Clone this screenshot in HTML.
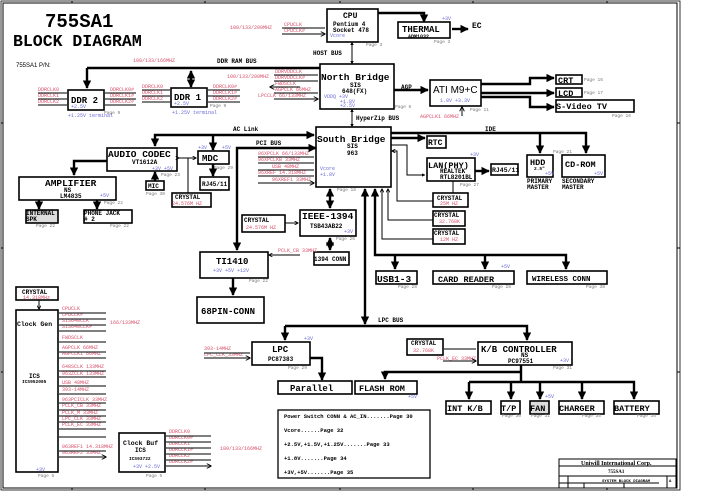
<!DOCTYPE html>
<html><head><meta charset="utf-8"><style>
body{margin:0;background:#fff}
svg{display:block}
text{font-family:"Liberation Mono",monospace;font-weight:bold;fill:#000}
.r,.r text{fill:#d8506a;font-size:5px;font-weight:normal}
.b{fill:#6a6ad8;font-size:5px;font-weight:normal}
.p{fill:#777;font-size:4.5px;font-weight:normal}
.s{font-size:6px}
.box{fill:#fff;stroke:#000;stroke-width:1.6}
.t{stroke:#000;stroke-width:2.4;fill:none}
.n{stroke:#000;stroke-width:1;fill:none}
.rl{stroke:#333;stroke-width:1.2;fill:none}
</style></head><body>
<svg width="713" height="504" viewBox="0 0 713 504" xmlns="http://www.w3.org/2000/svg">
<defs>
<marker id="a" viewBox="0 0 10 10" refX="9" refY="5" markerWidth="3.5" markerHeight="3.5" orient="auto-start-reverse"><path d="M0,0L10,5L0,10z" fill="#000"/></marker>
<marker id="v" viewBox="0 0 10 10" refX="9" refY="5" markerWidth="4" markerHeight="4" orient="auto"><path d="M0,0L10,5L0,10" fill="none" stroke="#000" stroke-width="2"/></marker>
</defs>
<rect x="3" y="3" width="674" height="485" fill="none" stroke="#000" stroke-width="1"/>
<rect x="1" y="1" width="679" height="489" fill="none" stroke="#000" stroke-width="0.8"/>
<g class="n"><path d="M72,1v2M205,1v2M340,1v2M473,1v2M607,1v2M72,488v2M205,488v2M340,488v2M473,488v2M607,488v2M1,123h2M1,248h2M1,372h2M677,123h3M677,248h3M677,372h3"/></g>

<text x="45" y="27" style="font-size:19px">755SA1</text>
<text x="13" y="46" style="font-size:16.5px">BLOCK DIAGRAM</text>
<text x="16" y="67" style="font-size:6px;font-weight:normal;font-family:'Liberation Sans',sans-serif">755SA1 P/N:</text>

<rect class="box" x="327" y="9" width="51" height="33"/>
<text x="343" y="18" style="font-size:8px">CPU</text>
<text x="333" y="26" class="s">Pentium 4</text>
<text x="333" y="32" class="s">Socket 478</text>
<text x="330" y="37" class="b">Vcore</text>
<text x="366" y="46" class="p">Page 3</text>
<text x="230" y="29" class="r">100/133/200MHZ</text>
<text x="284" y="26" class="r">CPUCLK</text><text x="284" y="32" class="r">CPUCLK#</text>
<path class="rl" d="M282,28h43M282,34h43" marker-end="url(#v)"/>
<path class="t" d="M378,13h46v9" marker-end="url(#a)"/>
<rect class="box" x="398" y="22" width="52" height="16"/>
<text x="402" y="32" style="font-size:9px">THERMAL</text>
<text x="408" y="38" style="font-size:5px">ADM1032</text>
<text x="442" y="20" class="b">+3V</text><text x="434" y="43" class="p">Page 3</text>
<path class="t" d="M452,29h16" marker-end="url(#a)"/>
<text x="472" y="28" style="font-size:8px">EC</text>
<path class="n" d="M352,42v22" stroke-width="1.6" marker-start="url(#a)" marker-end="url(#a)"/>
<text x="313" y="55" class="s">HOST BUS</text>

<rect class="box" x="320" y="64" width="74" height="45"/>
<text x="321" y="80" style="font-size:9.5px">North Bridge</text>
<text x="350" y="87" class="s">SIS</text><text x="342" y="93" class="s">648(FX)</text>
<text x="324" y="98" class="b">VDDQ +3V</text><text x="340" y="103" class="b">+1.8V</text><text x="340" y="107" class="b">+2.5V</text>
<text x="395" y="108" class="p">Page 6</text>
<text x="275" y="73" class="r">DDRVDDCLK</text><text x="275" y="79" class="r">DDRVDDCLK#</text><text x="275" y="85" class="r">FWDSCLK</text><text x="275" y="91" class="r">AGPCLK 66MHZ</text><text x="258" y="97" class="r">LPCCLK 66/133MHZ</text>
<text x="227" y="78" class="r">100/133/200MHZ</text>
<path class="rl" d="M274,68h44M274,75h44M274,81h44M274,93h44M274,99h44" marker-end="url(#v)"/>
<path class="rl" d="M300,87h-30" marker-end="url(#v)"/>
<path class="t" d="M394,90h34" marker-end="url(#a)"/>
<text x="401" y="89" class="s">AGP</text>
<rect class="box" x="430" y="80" width="51" height="26"/>
<text x="433" y="93" style="font-family:'Liberation Sans',sans-serif;font-weight:normal;font-size:10px">ATI M9+C</text>
<text x="440" y="102" class="b">1.8V  +3.3V</text>
<text x="470" y="111" class="p">Page 11</text>
<text x="420" y="118" class="r">AGPCLK1 66MHZ</text>
<path class="rl" d="M462,116v-9" marker-end="url(#v)"/>
<path class="t" d="M481,84h49v-6h24" marker-end="url(#a)"/>
<path class="t" d="M481,93h73" marker-end="url(#a)"/>
<path class="t" d="M481,97h49v10h24" marker-end="url(#a)"/>
<rect class="box" x="556" y="75" width="26" height="9"/><text x="558" y="83" style="font-size:8.5px">CRT</text>
<rect class="box" x="556" y="88" width="26" height="9"/><text x="558" y="96" style="font-size:8.5px">LCD</text>
<rect class="box" x="556" y="100" width="78" height="12"/><text x="556" y="109" style="font-size:8.5px">S-Video TV</text>
<text x="584" y="81" class="p">Page 16</text><text x="584" y="94" class="p">Page 17</text><text x="612" y="117" class="p">Page 16</text>
<path class="n" d="M352,109v18" stroke-width="2" marker-start="url(#a)" marker-end="url(#a)"/>
<text x="356" y="120" class="s">HyperZip BUS</text>

<path class="t" d="M87,68h233"/>
<text x="217" y="63" class="s">DDR RAM BUS</text>
<text x="133" y="62" class="r">100/133/166MHZ</text>
<path class="t" d="M87,68v20" marker-end="url(#a)"/><path class="t" d="M191,71v16" marker-start="url(#a)" marker-end="url(#a)"/>
<rect class="box" x="68" y="90" width="36" height="20"/><text x="71" y="103" style="font-size:9px">DDR 2</text><text x="71" y="108" class="b">+2.5V</text>
<rect class="box" x="171" y="88" width="36" height="19"/><text x="174" y="100" style="font-size:9px">DDR 1</text><text x="174" y="105" class="b">+2.5V</text>
<text x="68" y="117" class="b">+1.25V terminal</text><text x="172" y="114" class="b">+1.25V terminal</text>
<text x="104" y="114" class="p">Page 9</text><text x="210" y="107" class="p">Page 9</text>
<text x="38" y="91" class="r">DDRCLK0</text><text x="38" y="97" class="r">DDRCLK1</text><text x="38" y="103" class="r">DDRCLK2</text>
<path class="rl" d="M38,93h29M38,99h29M38,105h29"/>
<text x="110" y="91" class="r">DDRCLK0#</text><text x="110" y="97" class="r">DDRCLK1#</text><text x="110" y="103" class="r">DDRCLK2#</text>
<path class="rl" d="M105,93h31M105,99h31M105,105h31"/>
<text x="142" y="88" class="r">DDRCLK0</text><text x="142" y="94" class="r">DDRCLK1</text><text x="142" y="100" class="r">DDRCLK2</text>
<path class="rl" d="M142,90h28M142,96h28M142,102h28"/>
<text x="213" y="88" class="r">DDRCLK0#</text><text x="213" y="94" class="r">DDRCLK1#</text><text x="213" y="100" class="r">DDRCLK2#</text>
<path class="rl" d="M208,90h32M208,96h32M208,102h32"/>

<rect class="box" x="316" y="127" width="75" height="60"/>
<text x="317" y="142" style="font-size:9.5px">South Bridge</text>
<text x="347" y="148" class="s">SIS</text><text x="347" y="155" class="s">963</text>
<text x="320" y="170" class="b">Vcore</text><text x="320" y="176" class="b">+1.8V</text>
<text x="337" y="191" class="p">Page 18</text>
<text x="258" y="155" class="r">96XPCLK 66/133MHZ</text><text x="258" y="161" class="r">96XPCLKB 33MHZ</text><text x="272" y="168" class="r">USB 48MHZ</text><text x="258" y="174" class="r">96XREF 14.318MHZ</text><text x="272" y="181" class="r">96XREF1 33MHZ</text>
<path class="rl" d="M258,157h56M258,163h56M258,170h56M258,176h56M258,183h56" marker-end="url(#v)"/>
<path class="t" d="M391,133h195v20" marker-end="url(#a)"/><path class="t" d="M540,133v20" marker-end="url(#a)"/>
<text x="485" y="131" class="s">IDE</text>
<path class="t" d="M391,138h34" marker-end="url(#a)"/>
<rect class="box" x="427" y="136" width="19" height="12"/><text x="428" y="145" style="font-size:8px">RTC</text>
<rect class="box" x="527" y="155" width="26" height="22"/><text x="530" y="165" style="font-size:8.5px">HDD</text><text x="534" y="170" style="font-size:4.5px">2.5"</text><text x="545" y="175" class="b">+5V</text>
<rect class="box" x="562" y="155" width="43" height="22"/><text x="565" y="167" style="font-size:8.5px">CD-ROM</text><text x="594" y="175" class="b">+5V</text>
<text x="553" y="153" class="p">Page 21</text>
<text x="527" y="183" class="s">PRIMARY</text><text x="527" y="189" class="s">MASTER</text>
<text x="562" y="183" class="s">SECONDARY</text><text x="562" y="189" class="s">MASTER</text>
<path class="n" stroke-width="1.6" d="M391,145h16v30h18" marker-end="url(#a)"/>
<rect class="box" x="427" y="158" width="48" height="23"/><text x="428" y="168" style="font-size:8.5px">LAN(PHY)</text>
<text x="440" y="173" class="s">REALTEK</text><text x="440" y="179" class="s">RTL8201BL</text>
<text x="470" y="156" class="b">+3V</text><text x="460" y="186" class="p">Page 27</text>
<path class="t" d="M475,171h14" marker-end="url(#a)"/>
<rect class="box" x="491" y="164" width="27" height="11"/><text x="492" y="172" style="font-size:6.5px">RJ45/11</text>
<path class="n" stroke-width="1.5" d="M453,193v-12"/>
<rect class="box" x="433" y="193" width="35" height="14"/><text x="437" y="200" class="s">CRYSTAL</text><text x="440" y="205" class="r">25M HZ</text>
<rect class="box" x="433" y="211" width="32" height="15"/><text x="434" y="217" class="s">CRYSTAL</text><text x="439" y="223" class="r">32.768K</text>
<rect class="box" x="433" y="229" width="32" height="15"/><text x="434" y="235" class="s">CRYSTAL</text><text x="440" y="241" class="r">12M HZ</text>
<path class="n" stroke-width="1.5" d="M433,201h-36v-50h-5" marker-end="url(#v)"/>
<path class="n" stroke-width="1.5" d="M433,220h-45v-31" marker-end="url(#v)"/>
<path class="n" stroke-width="1.5" d="M433,239h-51v-50" marker-end="url(#v)"/>
<path class="t" d="M375,189v66h191v14" marker-start="url(#a)" marker-end="url(#a)"/>
<path class="t" d="M395,255v14" marker-end="url(#a)"/><path class="t" d="M485,255v14" marker-end="url(#a)"/>
<rect class="box" x="376" y="271" width="41" height="13"/><text x="377" y="282" style="font-size:9.5px">USB1-3</text>
<rect class="box" x="433" y="271" width="81" height="13"/><text x="438" y="282" style="font-size:8.5px">CARD READER</text>
<rect class="box" x="527" y="271" width="80" height="13"/><text x="532" y="281" style="font-size:7.5px">WIRELESS CONN</text>
<text x="501" y="268" class="b">+5V</text>
<text x="398" y="288" class="p">Page 28</text><text x="492" y="288" class="p">Page 28</text><text x="586" y="288" class="p">Page 38</text>

<path class="t" d="M365,189v135" marker-start="url(#a)" marker-end="url(#a)"/>
<path class="t" d="M285,326h242v14" marker-end="url(#a)"/><path class="t" d="M285,326v14" marker-end="url(#a)"/>
<text x="378" y="322" class="s">LPC BUS</text>
<path class="t" d="M316,148h-79v102" marker-start="url(#a)" marker-end="url(#a)"/>
<text x="256" y="145" class="s">PCI BUS</text>
<path class="t" d="M155,146v-11h159" marker-start="url(#a)" marker-end="url(#a)"/>
<path class="t" d="M213,150v-15" marker-start="url(#a)"/>
<text x="233" y="131" class="s">AC Link</text>
<rect class="box" x="107" y="148" width="70" height="23"/><text x="108" y="157" style="font-size:9.5px">AUDIO CODEC</text>
<text x="132" y="164" class="s">VT1612A</text><text x="152" y="170" class="b">+3V +5V</text>
<text x="161" y="176" class="p">Page 23</text>
<rect class="box" x="198" y="151" width="31" height="13"/><text x="202" y="161" style="font-size:9px">MDC</text>
<text x="198" y="149" class="b">+3V</text><text x="222" y="149" class="b">+5V</text><text x="214" y="169" class="p">Page 29</text>
<path class="n" stroke-width="1.4" d="M179,158h17" marker-start="url(#v)" marker-end="url(#v)"/>
<path class="n" stroke-width="1.4" d="M188,158v35"/>
<path class="t" d="M213,164v12" marker-end="url(#a)"/>
<rect class="box" x="200" y="177" width="29" height="13"/><text x="202" y="186" class="s">RJ45/11</text>
<path class="t" d="M155,181v-9" marker-end="url(#a)"/>
<rect class="box" x="146" y="181" width="18" height="9"/><text x="148" y="188" class="s">MIC</text><text x="146" y="195" class="p">Page 30</text>
<rect class="box" x="172" y="193" width="39" height="14"/><text x="175" y="199" class="s">CRYSTAL</text><text x="172" y="205" class="r">24.576M HZ</text>
<path class="t" d="M107,161h-33v14" marker-end="url(#a)"/>
<rect class="box" x="19" y="177" width="97" height="23"/><text x="45" y="186" style="font-size:9.5px">AMPLIFIER</text>
<text x="64" y="192" class="s">NS</text><text x="60" y="198" class="s">LM4835</text><text x="100" y="197" class="b">+5V</text>
<text x="104" y="204" class="p">Page 22</text>
<path class="t" d="M39,200v9" marker-end="url(#a)"/><path class="t" d="M97,200v9" marker-end="url(#a)"/>
<rect class="box" x="26" y="210" width="32" height="13" style="fill:#ddd"/><text x="26" y="215" class="s">INTERNAL</text><text x="26" y="221" class="s">SPK</text>
<rect class="box" x="84" y="210" width="48" height="13"/><text x="84" y="215" class="s">PHONE JACK</text><text x="84" y="221" class="s"># 2</text>
<text x="36" y="227" class="p">Page 22</text><text x="110" y="227" class="p">Page 22</text>

<path class="t" d="M330,189v19" marker-start="url(#a)" marker-end="url(#a)"/>
<rect class="box" x="300" y="210" width="56" height="26"/><text x="302" y="219" style="font-size:9.5px">IEEE-1394</text>
<text x="310" y="228" class="s">TSB43AB22</text><text x="344" y="233" class="b">+3V</text>
<text x="336" y="240" class="p">Page 26</text>
<rect class="box" x="242" y="215" width="43" height="17"/><text x="244" y="222" class="s">CRYSTAL</text><text x="246" y="229" class="r">24.576M HZ</text>
<path class="n" stroke-width="1.4" d="M285,223h13" marker-end="url(#v)"/>
<path class="t" d="M330,238v12" marker-start="url(#a)" marker-end="url(#a)"/>
<rect class="box" x="314" y="252" width="35" height="13"/><text x="314" y="261" style="font-size:6px">1394 CONN</text>
<text x="278" y="252" class="r">PCLK_CB 33MHZ</text>
<path class="n" stroke-width="1.2" d="M300,255h-31" marker-end="url(#v)"/>
<rect class="box" x="200" y="252" width="68" height="26"/><text x="216" y="264" style="font-size:9px">TI1410</text>
<text x="213" y="272" class="b">+3V +5V +12V</text><text x="249" y="282" class="p">Page 22</text>
<path class="t" d="M233,278v17" marker-end="url(#a)"/>
<rect class="box" x="197" y="297" width="67" height="26"/><text x="201" y="314" style="font-size:9px">68PIN-CONN</text>

<rect class="box" x="252" y="342" width="58" height="23"/><text x="272" y="352" style="font-size:9px">LPC</text>
<text x="268" y="361" class="s">PC87383</text><text x="304" y="340" class="b">+3V</text><text x="288" y="369" class="p">Page 29</text>
<text x="204" y="350" class="r">393-14MHZ</text><text x="204" y="356" class="r">LPC_CLK_33MHZ</text>
<path class="rl" d="M204,353h46M204,358h46" marker-end="url(#v)"/>
<path class="t" d="M310,358h12v22" marker-end="url(#a)"/>
<rect class="box" x="278" y="381" width="74" height="13"/><text x="290" y="391" style="font-size:9px">Parallel</text>
<rect class="box" x="355" y="381" width="62" height="13"/><text x="359" y="391" style="font-size:8.5px">FLASH ROM</text>
<text x="408" y="398" class="b">+5V</text>
<rect class="box" x="407" y="339" width="36" height="16"/><text x="411" y="345" class="s">CRYSTAL</text><text x="413" y="352" class="r">32.768K</text>
<text x="437" y="360" class="r">PCLK_EC 33MHZ</text>
<path class="rl" d="M443,349h33M443,361h33" marker-end="url(#v)"/>
<rect class="box" x="478" y="342" width="94" height="23"/><text x="481" y="352" style="font-size:9px">K/B CONTROLLER</text>
<text x="521" y="357" class="s">NS</text><text x="508" y="363" class="s">PC97551</text><text x="560" y="362" class="b">+3V</text>
<text x="553" y="369" class="p">Page 31</text>
<path class="t" d="M521,365v17M521,372h-136v7" marker-end="url(#a)"/>
<path class="t" d="M469,382h165v17" marker-end="url(#a)"/>
<path class="t" d="M469,382v17" marker-end="url(#a)"/><path class="t" d="M511,382v17" marker-end="url(#a)"/><path class="t" d="M540,382v17" marker-end="url(#a)"/><path class="t" d="M582,382v17" marker-end="url(#a)"/>
<rect class="box" x="446" y="401" width="45" height="13"/><text x="447" y="411" style="font-size:8.5px">INT K/B</text>
<rect class="box" x="501" y="401" width="19" height="13"/><text x="501" y="411" style="font-size:8.5px">T/P</text>
<rect class="box" x="530" y="401" width="19" height="13" style="fill:#ddd"/><text x="530" y="411" style="font-size:8.5px">FAN</text>
<rect class="box" x="559" y="401" width="45" height="13"/><text x="559" y="411" style="font-size:8.5px">CHARGER</text>
<rect class="box" x="614" y="401" width="45" height="13"/><text x="614" y="411" style="font-size:8.5px">BATTERY</text>
<text x="545" y="398" class="b">+5V</text>
<text x="502" y="417" class="p">Page 30</text><text x="531" y="417" class="p">Page 31</text><text x="582" y="417" class="p">Page 35</text><text x="637" y="417" class="p">Page 35</text>

<rect class="box" x="278" y="410" width="152" height="68" style="stroke-width:1.3"/>
<g style="font-size:5.5px"><text x="284" y="418">Power Switch CONN &amp; AC_IN.......Page 30</text>
<text x="284" y="432">Vcore......Page 32</text>
<text x="284" y="446">+2.5V,+1.5V,+1.25V.......Page 33</text>
<text x="284" y="460">+1.8V.......Page 34</text>
<text x="284" y="474">+3V,+5V.......Page 35</text></g>

<rect class="box" x="16" y="287" width="42" height="13"/><text x="22" y="294" class="s">CRYSTAL</text><text x="23" y="299" class="r">14.318MHz</text>
<path class="n" stroke-width="1.4" d="M39,300v9" marker-end="url(#v)"/>
<rect class="box" x="16" y="310" width="42" height="162"/>
<text x="17" y="326" style="font-size:6.5px">Clock Gen</text>
<text x="29" y="378" class="s">ICS</text><text x="22" y="383" style="font-size:4.5px">ICS952005</text>
<text x="36" y="471" class="b">+3V</text><text x="38" y="477" class="p">Page 5</text>
<g class="r"><text x="62" y="310">CPUCLK</text><text x="62" y="316">CPUCLK#</text><text x="62" y="322">SIS648CLK</text><text x="62" y="328">SIS648CLK#</text><text x="62" y="339">FWDSCLK</text><text x="62" y="349">AGPCLK 66MHZ</text><text x="62" y="355">AGPCLK1 66MHZ</text><text x="62" y="368">648SCLK 133MHZ</text><text x="62" y="375">963ZCLK 133MHZ</text><text x="62" y="384">USB 48MHZ</text><text x="62" y="391">393-14MHZ</text><text x="62" y="401">963PCICLK 33MHZ</text><text x="62" y="407">PCLK_CB 33MHZ</text><text x="62" y="414">PCLK_M 33MHZ</text><text x="62" y="420">LPC_CLK 33MHZ</text><text x="62" y="426">PCLK_EC 33MHZ</text><text x="62" y="448">963REF1 14.318MHZ</text><text x="62" y="454">963REF2 33MHZ</text><text x="110" y="324">166/133MHZ</text></g>
<path class="rl" stroke-width="1.4" d="M58,313h48M58,319h48M58,325h48M58,331h48M58,342h48M58,352h48M58,358h48M58,371h48M58,377h48M58,386h48M58,394h48M58,403h48M58,410h48M58,416h48M58,422h48M58,429h48M58,437h48M58,451h48M58,457h48" marker-end="url(#v)"/>
<rect class="box" x="119" y="433" width="46" height="39"/><text x="123" y="445" style="font-size:6.5px">Clock Buf</text>
<text x="135" y="452" class="s">ICS</text><text x="129" y="460" style="font-size:4.5px">ICS93722</text><text x="133" y="468" class="b">+3V +2.5V</text>
<text x="146" y="477" class="p">Page 5</text>
<g class="r"><text x="169" y="433">DDRCLK0</text><text x="169" y="439">DDRCLK0#</text><text x="169" y="445">DDRCLK1</text><text x="169" y="451">DDRCLK1#</text><text x="169" y="457">DDRCLK2</text><text x="169" y="463">DDRCLK2#</text><text x="220" y="450">100/133/166MHZ</text></g>
<path class="rl" stroke-width="1.3" d="M165,436h46M165,442h46M165,448h46M165,454h46M165,460h46M165,466h46" marker-end="url(#v)"/>

<g class="n" stroke-width="0.8"><rect x="559" y="459" width="117" height="29"/><path d="M559,466h117M559,476h117M568,476v12M667,476v12M559,483h100M584,483v5M624,483v5"/></g>
<text x="581" y="465" style="font-family:'Liberation Serif',serif;font-size:6px">Uniwill International Corp.</text>
<text x="608" y="473" style="font-family:'Liberation Serif',serif;font-size:5px">755SA1</text>
<text x="602" y="482" style="font-size:4px">SYSTEM BLOCK DIAGRAM</text>
<text x="669" y="482" style="font-size:4px">A</text>
</svg>
</body></html>
